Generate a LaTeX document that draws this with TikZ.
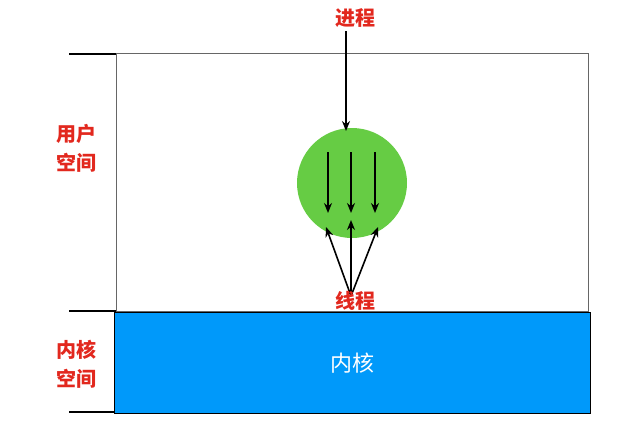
\documentclass[tikz,border=0pt]{standalone}
\usepackage{fontspec}
\newfontfamily\cjk{Noto Sans CJK SC}
\usetikzlibrary{arrows.meta}
\definecolor{lblred}{RGB}{226,40,30}
\definecolor{kblue}{RGB}{0,153,250}
\definecolor{tgreen}{RGB}{102,204,68}
\tikzset{
  lbl/.style={font=\cjk\bfseries\fontsize{20}{29}\selectfont, text=lblred, inner sep=0pt, align=center},
  tick/.style={line width=1.6pt},
  arr/.style={-{Stealth[length=10pt,width=8pt]}, line width=1.6pt},
}
\begin{document}
\begin{tikzpicture}[x=1pt,y=-1pt]
\useasboundingbox (0,0) rectangle (640,429);
% user space box
\node[draw=gray!80!black, line width=0.9pt, minimum width=472pt, minimum height=258pt, inner sep=0pt] (user) at (352,182) {};
% kernel box
\node[draw=black, fill=kblue, line width=0.9pt, minimum width=476pt, minimum height=101pt, inner sep=0pt,
      font=\cjk\fontsize{22}{26}\selectfont, text=white] (kernel) at (352,363) {内核};
% ticks
\coordinate (t1a) at (69,54); \coordinate (t1b) at (116,54);
\coordinate (t2a) at (69,311); \coordinate (t2b) at (116,311);
\coordinate (t3a) at (69,412); \coordinate (t3b) at (114,412);
\draw[tick] (t1a) -- (t1b);
\draw[tick] (t2a) -- (t2b);
\draw[tick] (t3a) -- (t3b);
% side labels
\node[lbl] (ulab) at (76,148) {用户\\空间};
\node[lbl] (klab) at (76,364) {内核\\空间};
% process
\node[lbl] (proc) at (355,18) {进程};
\node[circle, fill=tgreen, minimum size=110pt, inner sep=0pt] (circ) at (352,183) {};
\draw[arr] (346,31) -- (346,131);
% thread arrows inside
\coordinate (a1) at (328,152); \coordinate (b1) at (328,213);
\coordinate (a2) at (351,152); \coordinate (b2) at (351,213);
\coordinate (a3) at (375,152); \coordinate (b3) at (375,213);
\draw[arr] (a1) -- (b1);
\draw[arr] (a2) -- (b2);
\draw[arr] (a3) -- (b3);
% thread label and arrows
\coordinate (src) at (351,296);
\coordinate (u1) at (326,227); \coordinate (u2) at (351,220); \coordinate (u3) at (378,227);
\draw[arr] (src) -- (u1);
\draw[arr] (src) -- (u2);
\draw[arr] (src) -- (u3);
\node[lbl] (thr) at (355,301) {线程};
\end{tikzpicture}
\end{document}
